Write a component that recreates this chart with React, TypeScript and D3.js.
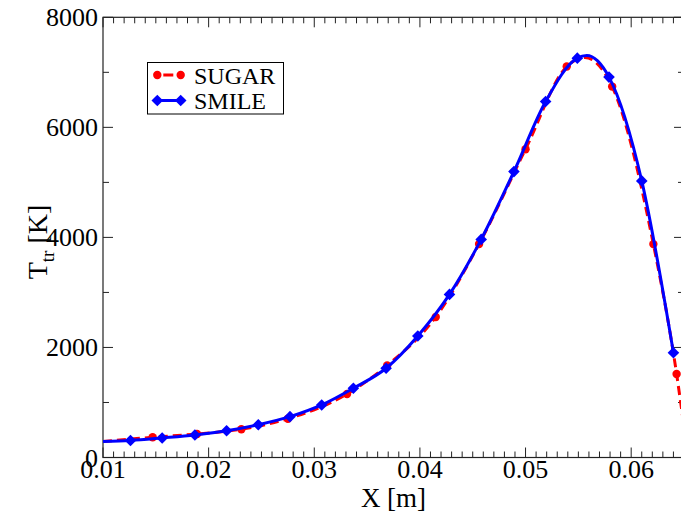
import React from "react";
import * as d3 from "d3";

// SMILE (blue, diamonds) marker points: x [m], T [K]
const smileX = [0.0126, 0.0156, 0.0187, 0.0217, 0.0247, 0.0277, 0.0307, 0.0337, 0.0368, 0.0398, 0.0428, 0.0458, 0.0489, 0.0519, 0.0549, 0.0579, 0.0610, 0.0640];
const smileT = [309, 355, 409, 487, 596, 742, 955, 1258, 1622, 2209, 2964, 3964, 5196, 6469, 7258, 6913, 5027, 1905];
// line points for SMILE curve (start, markers, peak)
const smileLineX = [0.0100, 0.0126, 0.0156, 0.0187, 0.0217, 0.0247, 0.0277, 0.0307, 0.0337, 0.0368, 0.0398, 0.0428, 0.0458, 0.0489, 0.0519, 0.0549, 0.0558, 0.0579, 0.0610, 0.0640];
const smileLineT = [290, 309, 355, 409, 487, 596, 742, 955, 1258, 1622, 2209, 2964, 3964, 5196, 6469, 7258, 7305, 6913, 5027, 1905];

// SUGAR (red, circles) marker points
const sugarX = [0.0147, 0.0189, 0.0231, 0.0275, 0.0331, 0.0369, 0.0415, 0.0456, 0.0500, 0.0539, 0.0582, 0.0621, 0.0643];
const sugarT = [367, 427, 513, 705, 1154, 1673, 2554, 3881, 5603, 7105, 6741, 3878, 1518];
const sugarLineX = [0.0100, 0.0147, 0.0189, 0.0231, 0.0275, 0.0331, 0.0369, 0.0415, 0.0456, 0.0500, 0.0539, 0.0556, 0.0582, 0.0621, 0.0643, 0.0650];
const sugarLineT = [290, 367, 427, 513, 705, 1154, 1673, 2554, 3881, 5603, 7105, 7270, 6741, 3878, 1518, 560];

const xMajor = [0.01, 0.02, 0.03, 0.04, 0.05, 0.06];
const xMajorLabels = ["0.01", "0.02", "0.03", "0.04", "0.05", "0.06"];
const yMajor = [0, 2000, 4000, 6000, 8000];
const yMajorLabels = ["0", "2000", "4000", "6000", "8000"];

const legendNames = ["SUGAR", "SMILE"];

const W = 681;
const H = 516;
const L = 103;
const R = 684;
const T = 17.3;
const B = 457.5;
const FONT = "Liberation Serif, DejaVu Serif, Times New Roman, serif";

export default function App() {
  const x = d3.scaleLinear().domain([0.01, 0.065]).range([L, R]);
  const y = d3.scaleLinear().domain([0, 8000]).range([B, T]);

  const xMinor = d3.range(10, 66).map((v) => v / 1000).filter((v) => Math.round(v * 1000) % 10 !== 0);
  const yMinor = [1000, 3000, 5000, 7000];

  const line = d3
    .line<[number, number]>()
    .x((d) => x(d[0]))
    .y((d) => y(d[1]))
    .curve(d3.curveMonotoneX);

  const smileLine = line(smileLineX.map((v, i) => [v, smileLineT[i]] as [number, number])) || "";
  const sugarLine = line(sugarLineX.map((v, i) => [v, sugarLineT[i]] as [number, number])) || "";

  const diamond = (cx: number, cy: number, r: number) =>
    `M${cx},${cy - r}L${cx + r},${cy}L${cx},${cy + r}L${cx - r},${cy}Z`;

  const axisColor = "#222";
  const majLen = 10;
  const minLen = 6;
  const txt = { fontFamily: FONT };

  return (
    <svg width={W} height={H} style={{ position: "absolute", left: 0, top: 0, background: "#fff" }}>
      <defs>
        <clipPath id="plotClip">
          <rect x={L} y={T} width={R - L} height={B - T} />
        </clipPath>
      </defs>
      <rect x={0} y={0} width={W} height={H} fill="#fff" />

      {/* ticks */}
      <g stroke={axisColor} strokeWidth={1}>
        {xMajor.map((v) => (
          <g key={"xm" + v}>
            <line x1={x(v)} x2={x(v)} y1={B} y2={B - majLen} />
            <line x1={x(v)} x2={x(v)} y1={T} y2={T + majLen} />
          </g>
        ))}
        {xMinor.map((v) => (
          <g key={"xn" + v}>
            <line x1={x(v)} x2={x(v)} y1={B} y2={B - minLen} />
            <line x1={x(v)} x2={x(v)} y1={T} y2={T + minLen} />
          </g>
        ))}
        {yMajor.map((v) => (
          <g key={"ym" + v}>
            <line x1={L} x2={L + majLen} y1={y(v)} y2={y(v)} />
            <line x1={R} x2={R - majLen} y1={y(v)} y2={y(v)} />
          </g>
        ))}
        {yMinor.map((v) => (
          <g key={"yn" + v}>
            <line x1={L} x2={L + minLen} y1={y(v)} y2={y(v)} />
            <line x1={R} x2={R - minLen} y1={y(v)} y2={y(v)} />
          </g>
        ))}
      </g>
      <rect x={L} y={T} width={R - L} height={B - T} fill="none" stroke={axisColor} strokeWidth={1.2} />

      {/* tick labels */}
      <g style={txt} fontSize={26} fill="#000">
        {xMajor.map((v, i) => (
          <text key={"xl" + v} x={x(v)} y={478} textAnchor="middle" style={txt}>
            {xMajorLabels[i]}
          </text>
        ))}
        {yMajor.map((v, i) => (
          <text key={"yl" + v} x={L - 5} y={y(v) + 9} textAnchor="end" style={txt}>
            {yMajorLabels[i]}
          </text>
        ))}
      </g>

      {/* axis titles */}
      <text x={x(0.0375)} y={507} textAnchor="middle" style={txt} fontSize={27}>
        X [m]
      </text>
      <text
        transform={`translate(47, ${242}) rotate(-90)`}
        textAnchor="middle"
        style={txt}
        fontSize={28}
      >
        T<tspan fontSize={19} dy={7}>tr</tspan>
        <tspan dy={-7}> [K]</tspan>
      </text>

      {/* data */}
      <g clipPath="url(#plotClip)">
        <path d={sugarLine} fill="none" stroke="#ff0000" strokeWidth={3} strokeDasharray="9,5" />
        {sugarX.map((v, i) => (
          <circle key={"sc" + i} cx={x(v)} cy={y(sugarT[i])} r={4.2} fill="#ff0000" />
        ))}
        <path d={smileLine} fill="none" stroke="#0000ff" strokeWidth={3} />
        {smileX.map((v, i) => (
          <path key={"sd" + i} d={diamond(x(v), y(smileT[i]), 5.8)} fill="#0000ff" />
        ))}
      </g>

      {/* legend */}
      <rect x={147.5} y={62.5} width={136} height={51.5} fill="#fff" stroke="#000" strokeWidth={1} />
      <line x1={157.3} x2={180.7} y1={75} y2={75} stroke="#ff0000" strokeWidth={3} strokeDasharray="0,6,10,10" />
      <circle cx={157.3} cy={75} r={4.2} fill="#ff0000" />
      <circle cx={180.7} cy={75} r={4.2} fill="#ff0000" />
      <line x1={157.3} x2={180.7} y1={100.5} y2={100.5} stroke="#0000ff" strokeWidth={3} />
      <path d={diamond(157.3, 100.5, 5.8)} fill="#0000ff" />
      <path d={diamond(180.7, 100.5, 5.8)} fill="#0000ff" />
      <text x={194} y={84} style={txt} fontSize={24}>
        {legendNames[0]}
      </text>
      <text x={194} y={109} style={txt} fontSize={24}>
        {legendNames[1]}
      </text>
    </svg>
  );
}
